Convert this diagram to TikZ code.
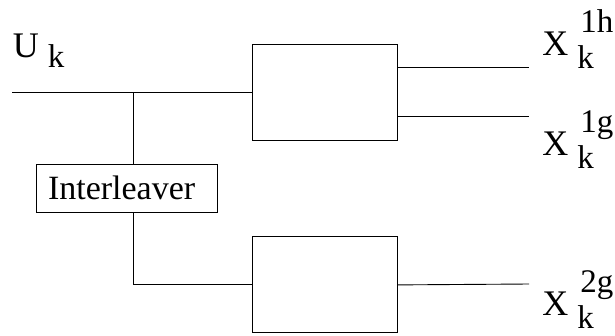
\documentclass[tikz,border=0pt]{standalone}
\usepackage{fontspec}
\setmainfont{Liberation Serif}
\usetikzlibrary{positioning, calc}

\newcommand{\subsz}{\fontsize{33}{36}\selectfont}
\newcommand{\xidx}[2]{\hspace{9pt}\raisebox{-13pt}{\makebox[0pt][l]{\subsz #1}}\hspace{3pt}\raisebox{23pt}{\subsz #2}}

\begin{document}
\begin{tikzpicture}[x=1pt,y=-1pt,line width=0.9pt,
      coder/.style={draw,minimum width=145pt,minimum height=96pt,inner sep=0pt},
      ilvbox/.style={draw,text width=157pt,inner xsep=12pt,inner ysep=0pt,
        minimum height=48pt,align=left,font=\fontsize{34}{36}\selectfont},
      lab/.style={anchor=base west,inner sep=0pt,font=\fontsize{36}{40}\selectfont}]
  \useasboundingbox (0,0) rectangle (615,335);
  \node[coder] (enc1) at (324.5,92) {};
  \node[coder,below=96pt of enc1] (enc2) {};
  \node[ilvbox] (ilv) at (126.5,188) {Interleaver};
  \coordinate (in) at (12,92);
  \coordinate (split) at (133,92);
  \coordinate (o1h) at (529,67);
  \coordinate (o1g) at (529,116);
  \coordinate (o2g) at (529,284);
  % labels
  \node[lab] (uk) at (12.5,57) {U\hspace{9pt}\raisebox{-10pt}{\subsz k}};
  \node[lab] (x1h) at (542,55) {X\xidx{k}{1h}};
  \node[lab] (x1g) at (542,155) {X\xidx{k}{1g}};
  \node[lab] (x2g) at (542,315) {X\xidx{k}{2g}};
  % connections
  \draw (in) -- (enc1.west);
  \draw (split) -- (split |- ilv.north);
  \draw (ilv.south -| split) |- (enc2.west);
  \draw (o1h -| enc1.east) -- (o1h);
  \draw (o1g -| enc1.east) -- (o1g);
  \draw (enc2.east) -- (o2g);
\end{tikzpicture}
\end{document}
